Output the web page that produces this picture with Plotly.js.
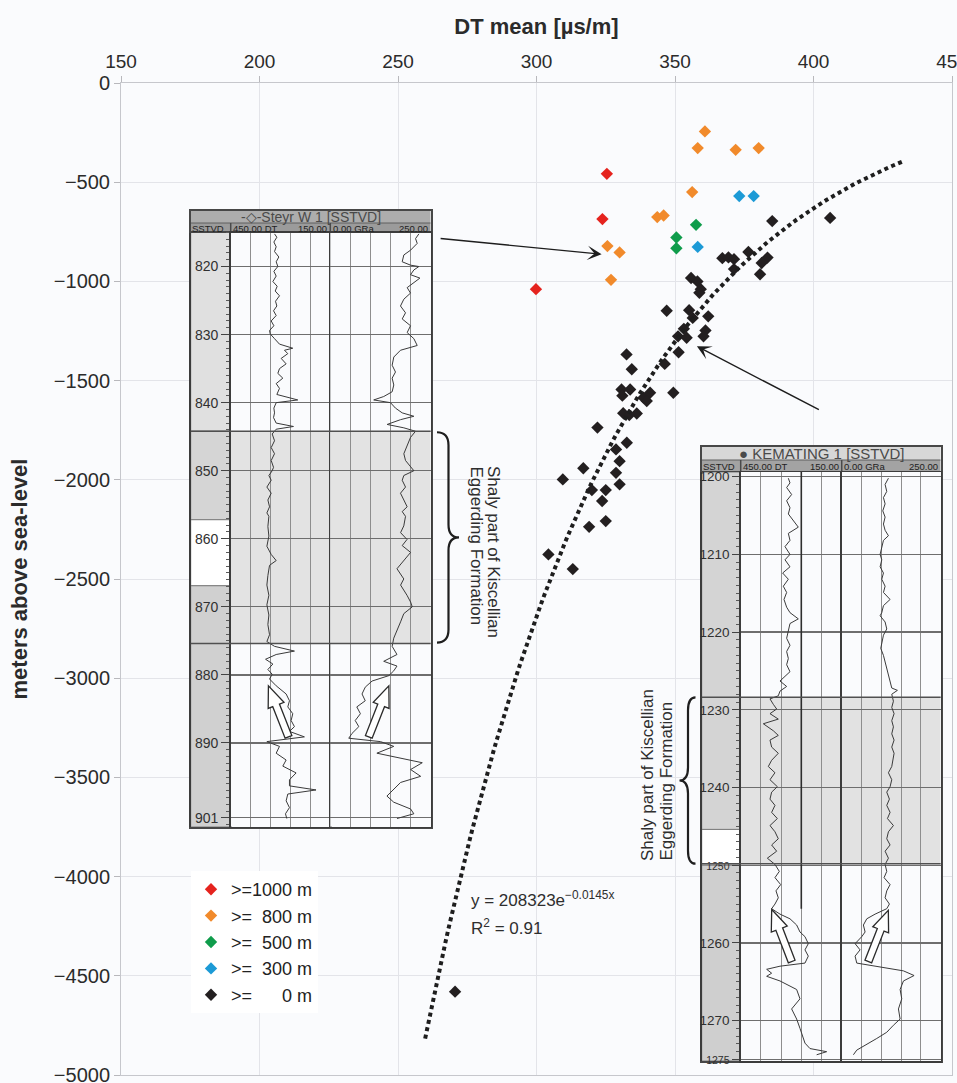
<!DOCTYPE html>
<html>
<head>
<meta charset="utf-8">
<title>DT mean vs depth</title>
<script src="https://cdn.plot.ly/plotly-3.0.1.min.js"></script>
<style>
  html, body { margin: 0; padding: 0; background: #fafbfd; }
  #chart { width: 957px; height: 1083px; }
</style>
</head>
<body>
<div id="chart"></div>
<script>
// ---------------------------------------------------------------------------
// Mean sonic slowness (DT, µs/m) of each shale interval against its depth
// (m above sea level), grouped by thickness class of the interval.
// ---------------------------------------------------------------------------
const classNames = ['>=1000 m', '>=\u2007800 m', '>=\u2007500 m', '>=\u2007300 m', '>=\u2007\u2007\u20070 m'];

const dt1000    = [325.4, 323.8, 299.8];
const depth1000 = [-458, -686, -1039];

const dt800    = [360.8, 358.2, 371.9, 380.2, 356.2, 343.6, 345.9, 325.6, 330.0, 326.9];
const depth800 = [-244, -328, -337, -328, -550, -676, -668, -822, -854, -992];

const dt500    = [357.6, 350.5, 350.5];
const depth500 = [-715, -779, -833];

const dt300    = [373.2, 378.4, 358.2];
const depth300 = [-570, -570, -826];

const dt0 = [385.1, 406.0, 367.1, 369.3, 371.3, 376.5, 371.3, 383.4, 381.3, 380.7,
             355.8, 358.1, 359.3, 358.8, 347.0, 355.1, 356.4, 362.0, 353.2, 351.1,
             354.2, 361.0, 360.3, 351.3, 332.5, 334.4, 346.3, 330.7, 333.8, 331.0,
             338.6, 341.0, 339.8, 349.4, 331.3, 333.5, 336.2, 322.0, 332.6, 328.7,
             330.0, 328.7, 330.0, 316.9, 309.5, 320.0, 325.0, 323.7, 319.0, 325.0,
             304.3, 313.1, 270.6];
const depth0 = [-696, -680, -883, -879, -888, -852, -938, -880, -907, -964,
                -983, -1000, -1039, -1057, -1148, -1145, -1184, -1176, -1239, -1277,
                -1284, -1247, -1277, -1357, -1368, -1443, -1416, -1545, -1545, -1576,
                -1586, -1561, -1603, -1561, -1664, -1674, -1666, -1737, -1813, -1847,
                -1906, -1965, -2023, -1942, -1998, -2052, -2052, -2107, -2237, -2208,
                -2376, -2450, -4580];

// Exponential compaction trend printed on the chart: depth = -A * exp(-B * DT)
const fitA = 208323;
const fitB = 0.0145;
const fitR2 = 0.91;
const fitDtRange = [259.8, 432];

// ---------------------------------------------------------------------------
// Well log excerpts (depth in m SSTVD)
// ---------------------------------------------------------------------------
const steyrDepthTicks = [820, 830, 840, 850, 860, 870, 880, 890, 901];
const steyrShaly = [844.2, 875.4];
const steyrColumnBreaks = [815.0, 844.2, 857.2, 866.9, 902.3];

const steyrDtDepth = [815.2, 815.7, 816.4, 817.1, 817.8, 818.6, 819.3, 820.0, 820.7, 821.4,
  822.2, 822.9, 823.6, 824.3, 825.1, 825.8, 826.5, 827.2, 828.0, 828.7,
  829.4, 829.9, 830.6, 831.4, 832.0, 832.3, 832.8, 833.5, 834.3, 835.0,
  835.7, 836.4, 837.2, 837.9, 838.8, 839.6, 840.0, 840.8, 841.5, 842.2,
  843.0, 843.5, 843.9, 844.6, 845.6, 846.6, 847.5, 848.5, 849.5, 850.0,
  850.7, 851.4, 852.4, 853.3, 854.3, 855.3, 856.2, 856.7,
  858.2, 859.6, 861.1, 862.3, 863.2, 863.9, 865.4, 866.8, 868.3, 869.7,
  871.2, 872.6, 874.1, 875.1, 875.8, 876.5, 877.0, 877.7, 878.4, 879.2,
  879.9, 880.6, 881.6, 882.8, 883.8, 884.7, 885.7, 886.7, 887.6, 888.3,
  889.1, 889.8, 890.5, 891.5, 892.5, 893.4, 894.4, 895.4, 896.3, 896.9,
  897.5, 898.5, 899.5, 900.4, 901.1];
const steyrDt = [318, 311, 320, 313, 318, 305, 313, 308, 320, 313,
  323, 310, 316, 303, 315, 311, 321, 313, 328, 320,
  333, 331, 318, 303, 263, 288, 278, 298, 283, 303,
  308, 293, 313, 303, 311, 248, 313, 320, 318, 321,
  313, 261, 313, 325, 318, 328, 318, 328, 321, 325,
  335, 328, 341, 328, 338, 333, 341, 335,
  338, 335, 341, 328, 313, 333, 338, 341, 335, 341,
  335, 338, 333, 341, 318, 258, 313, 345, 323, 338,
  325, 333, 313, 283, 273, 278, 263, 268, 258, 273,
  228, 341, 303, 313, 283, 293, 253, 273, 273, 193,
  278, 283, 273, 285, 281];

const steyrGrDepth = [815.2, 815.9, 816.6, 817.6, 818.3, 819.3, 819.8, 820.0, 820.5, 821.2,
  821.7, 822.4, 823.1, 823.9, 824.8, 825.8, 826.8, 827.7, 828.7, 829.7,
  830.6, 831.6, 832.3, 833.3, 834.5, 835.5, 836.4, 837.4, 838.4, 839.1,
  839.6, 840.0, 840.8, 841.5, 842.0, 842.5, 843.2, 843.7, 844.2, 845.1,
  846.3, 847.5, 848.5, 849.5, 850.0, 850.7, 851.4, 852.4, 853.3, 854.3,
  855.3, 856.0, 856.7,
  858.1, 859.1, 860.1, 861.0, 862.0, 863.5, 864.4, 865.9, 866.8, 868.3,
  869.3, 870.0, 871.0, 872.2, 873.6, 874.6, 875.8, 877.0, 878.0, 878.7,
  879.4, 880.1, 880.9, 881.8, 882.8, 883.8, 884.7, 885.7, 886.7, 887.6,
  888.6, 889.3, 889.8, 890.5, 891.5, 892.4, 892.9, 893.9, 894.9, 895.8,
  896.8, 897.8, 898.7, 899.7, 900.4, 901.1];
const steyrGr = [220.6, 212.3, 216.4, 199.8, 183.1, 179, 199.8, 220.6, 208.1, 199.8,
  223.1, 208.1, 191.4, 199.8, 183.1, 174.8, 187.3, 179, 199.8, 191.4,
  208.1, 216.4, 174.8, 158.1, 154, 162.3, 154, 158.1, 154, 133.1,
  108.1, 149.8, 162.3, 179, 208.1, 174.8, 141.5, 183.1, 212.3, 199.8,
  191.4, 183.1, 187.3, 199.8, 208.1, 183.1, 179, 187.3, 174.8, 183.1,
  191.4, 179, 187.3,
  183, 175, 191, 179, 200, 179, 166, 183, 175, 191,
  200, 204, 183, 175, 166, 158, 154, 166, 133, 166,
  158, 146, 104, 87, 79, 87, 66, 75, 62, 71,
  54, 46, 125, 158, 116, 191, 229, 200, 225, 175,
  158, 141, 158, 200, 208, 166];

const kemDepthTicks = [1200, 1210, 1220, 1230, 1240, 1250, 1260, 1270, 1275];
const kemShaly = [1228.4, 1249.8];
const kemColumnBreaks = [1199.4, 1245.4, 1250.0, 1275.2];

const kemDtDepth = [1200.2, 1200.8, 1201.4, 1202.3, 1203.1, 1204.0, 1204.8, 1205.7, 1206.5, 1207.3,
  1208.2, 1209.0, 1210.0, 1210.7, 1211.6, 1212.4, 1213.2, 1214.1, 1214.9, 1215.8,
  1216.8, 1217.5, 1218.3, 1218.9, 1220.0, 1220.8, 1221.7, 1222.5, 1223.4, 1224.2,
  1225.1, 1225.9, 1226.3, 1227.0, 1227.6, 1228.2, 1228.6, 1229.3, 1229.9, 1230.5,
  1231.2, 1231.8, 1232.7, 1233.3, 1233.9, 1234.8, 1235.6, 1236.5,
  1237.3, 1238.1, 1239.0, 1239.9, 1240.6, 1241.5, 1242.3, 1243.2, 1244.0, 1244.9,
  1245.7, 1246.6, 1247.4, 1248.2, 1249.1, 1249.9, 1250.8, 1251.6, 1252.5, 1253.3,
  1254.2, 1255.0, 1255.6, 1256.3, 1256.9, 1257.7, 1258.6, 1259.2, 1260.1, 1260.9,
  1261.7, 1262.6, 1263.0, 1263.4, 1263.9, 1264.3, 1264.9, 1266.0, 1267.2, 1268.5,
  1269.8, 1271.0, 1272.1, 1272.9, 1273.6, 1274.0, 1274.4];
const kemDt = [308.5, 303.6, 313.5, 298.7, 313.5, 303.6, 308.5, 293.7, 278.9, 308.5,
  303.6, 318.4, 303.6, 318.4, 303.6, 325.4, 308.5, 323.4, 313.5, 321.4,
  313.5, 303.6, 278.9, 303.6, 308.5, 313.5, 303.6, 313.5, 308.5, 313.5,
  303.6, 323.4, 333.3, 313.5, 333.3, 338.3, 363, 353.1, 343.2, 363,
  338.3, 382.8, 353.1, 338.3, 363, 358.1, 338.3, 358.1,
  368, 348.2, 363, 341.2, 358.1, 363, 348.2, 358.1, 341.2, 363,
  348.2, 338.3, 358.1, 343.2, 370.9, 348.2, 335.3, 348.2, 331.3, 345.2,
  338.3, 348.2, 358.1, 333.3, 303.6, 283.8, 273.9, 259.1, 249.2, 259.1,
  249.2, 259.1, 333.3, 372.9, 358.1, 372.9, 333.3, 283.8, 273.9, 298.7,
  283.8, 273.9, 264, 259.1, 244.2, 194.7, 224.4];

const kemGrDepth = [1200.2, 1201.0, 1201.9, 1202.7, 1203.5, 1204.4, 1205.2, 1206.1, 1206.9, 1207.6,
  1208.2, 1209.0, 1210.0, 1210.7, 1211.6, 1212.4, 1213.2, 1214.1, 1214.9, 1215.8,
  1216.6, 1217.5, 1217.9, 1218.7, 1219.6, 1220.4, 1221.3, 1222.1, 1223.0, 1223.8,
  1224.6, 1225.5, 1226.3, 1227.2, 1227.5, 1228.0, 1228.9, 1229.7, 1230.5, 1231.4,
  1232.2, 1233.1, 1233.9, 1234.8, 1235.6, 1236.5,
  1237.3, 1238.1, 1239.0, 1239.9, 1240.6, 1241.5, 1242.3, 1243.2, 1244.0, 1244.9,
  1245.7, 1246.6, 1247.4, 1248.2, 1249.1, 1249.9, 1250.8, 1251.6, 1252.5, 1253.3,
  1254.2, 1255.0, 1255.6, 1256.3, 1256.9, 1257.7, 1258.6, 1259.2, 1260.1, 1260.9,
  1261.7, 1262.6, 1263.0, 1263.6, 1264.2, 1264.9, 1266.0, 1267.2, 1268.5, 1269.8,
  1270.6, 1271.5, 1272.3, 1273.1, 1273.8, 1274.4];
const kemGr = [118, 109.6, 113.8, 105.4, 109.6, 103.7, 109.6, 105.4, 109.6, 118,
  105.4, 101.2, 97, 101.2, 97, 105.4, 101.2, 109.6, 105.4, 122.2,
  105.4, 101.2, 97, 109.6, 113.8, 105.4, 101.2, 98.6, 105.4, 109.6,
  113.8, 118, 122.2, 126.4, 140.7, 126.4, 130.6, 126.4, 132.3, 126.4,
  130.6, 126.4, 132.3, 126.4, 132.3, 128.9,
  126.4, 118, 126.4, 122.2, 113.8, 120.5, 113.8, 122.2, 115.5, 130.6,
  118, 113.8, 122.2, 109.6, 118, 109.6, 113.8, 107, 122.2, 113.8,
  109.6, 120.5, 113.8, 84.3, 63.3, 54.8, 59.1, 50.6, 33.8, 46.4,
  33.8, 38, 88.5, 155.9, 182.8, 155.9, 147.5, 151.7, 143.3, 147.5,
  130.6, 113.8, 88.5, 63.3, 38, 29.6];

// constant reference curve in the DT track of Kemating 1
const kemRefDt = [270, 270];
const kemRefDepth = [1199.4, 1255.6];

// ---------------------------------------------------------------------------
// Page geometry and styling
// ---------------------------------------------------------------------------
const FONT = 'Liberation Sans, Arial, Helvetica, sans-serif';
const BG = '#fafbfd';
const INK = '#2a2a2a';
const W = 957, H = 1083;
const PLOT = { l: 121, r: 952, t: 83, b: 1075 };
const px2x = px => (px - PLOT.l) / (PLOT.r - PLOT.l);
const px2y = py => (PLOT.b - py) / (PLOT.b - PLOT.t);

const DT_RANGE = [450, 150];
const GR_RANGE = [0, 250];

const steyrPanel = {
  title: '-\u25C7-Steyr W 1 [SSTVD]', titleSize: 14,
  left: 190.7, col: 230.7, mid: 330.3, right: 430.7,
  top: 210.5, head1: 223, head2: 232.5, bottom: 826.7,
  depthRange: [815.0, 902.3],
  headColors: ['#adadad', '#9b9b9b'],
  columnColors: ['#e0e0e0', '#d5d5d5', '#ffffff', '#d0d0d0'],
  shadeColor: '#e3e3e3',
  tickSize: 14, tickLen: 8, smallTicks: [],
  axes: { frameX: 2, frameY: 2, colX: 3, dtX: 4, grX: 5, depthY: 3 }
};
const kemPanel = {
  title: '\u25CF KEMATING 1 [SSTVD]', titleSize: 15,
  left: 701.7, col: 740.7, mid: 841.7, right: 940.7,
  top: 446.7, head1: 460, head2: 472, bottom: 1061,
  depthRange: [1199.4, 1275.2],
  headColors: ['#d7d7d7', '#a3a3a3'],
  columnColors: ['#d4d4d4', '#ffffff', '#cfcfcf'],
  shadeColor: '#e2e2e2',
  tickSize: 13.5, tickLen: 7, smallTicks: [1250, 1275],
  axes: { frameX: 6, frameY: 4, colX: 7, dtX: 8, grX: 9, depthY: 5 }
};

const depthPx = (p, d) => p.head2 + (d - p.depthRange[0]) / (p.depthRange[1] - p.depthRange[0]) * (p.bottom - p.head2);
const dtPx = (p, v) => p.col + (DT_RANGE[0] - v) / (DT_RANGE[0] - DT_RANGE[1]) * (p.mid - p.col);
const grPx = (p, v) => p.mid + (v - GR_RANGE[0]) / (GR_RANGE[1] - GR_RANGE[0]) * (p.right - p.mid);
const toPaper = pt => px2x(pt[0]).toFixed(5) + ',' + px2y(pt[1]).toFixed(5);

// hollow block arrow between two pixel points, as a paper-referenced path
function blockArrow(tail, tip) {
  const dx = tip[0] - tail[0], dy = tip[1] - tail[1], L = Math.hypot(dx, dy);
  const ux = dx / L, uy = dy / L, nx = -uy, ny = ux;
  const sw = 3.6, hw = 8.5, hl = 21;
  const bx = tip[0] - ux * hl, by = tip[1] - uy * hl;
  const pts = [
    [tail[0] + nx * sw, tail[1] + ny * sw], [bx + nx * sw, by + ny * sw], [bx + nx * hw, by + ny * hw],
    tip,
    [bx - nx * hw, by - ny * hw], [bx - nx * sw, by - ny * sw], [tail[0] - nx * sw, tail[1] - ny * sw]
  ];
  return 'M' + pts.map(toPaper).join('L') + 'Z';
}

// vertical curly brace: ends at xEnd, spine at xSpine, point at xTip
function curlyBrace(xEnd, xSpine, xTip, yTop, yBot) {
  const r = 13, ym = (yTop + yBot) / 2;
  return 'M' + toPaper([xEnd, yTop]) +
    'Q' + toPaper([xSpine, yTop]) + ' ' + toPaper([xSpine, yTop + r]) +
    'L' + toPaper([xSpine, ym - r]) +
    'Q' + toPaper([xSpine, ym]) + ' ' + toPaper([xTip, ym]) +
    'Q' + toPaper([xSpine, ym]) + ' ' + toPaper([xSpine, ym + r]) +
    'L' + toPaper([xSpine, yBot - r]) +
    'Q' + toPaper([xSpine, yBot]) + ' ' + toPaper([xEnd, yBot]);
}

const traces = [];
const shapes = [];
const annotations = [];

// ---------------------------------------------------------------------------
// Main scatter
// ---------------------------------------------------------------------------
const classSeries = [[dt1000, depth1000], [dt800, depth800], [dt500, depth500], [dt300, depth300], [dt0, depth0]];
const classColors = ['#e5231e', '#f18a2b', '#0f9c4b', '#1c9ad6', '#231f20'];
classSeries.forEach(([xs, ys], i) => {
  traces.push({
    type: 'scatter', mode: 'markers', name: classNames[i],
    x: xs, y: ys, xaxis: 'x', yaxis: 'y',
    marker: { symbol: 'diamond', size: 9.5, color: classColors[i], line: { width: 0 } },
    hoverinfo: 'skip'
  });
});

const fitDt = [], fitDepth = [];
for (let i = 0; i <= 140; i++) {
  const x = fitDtRange[0] + (fitDtRange[1] - fitDtRange[0]) * i / 140;
  fitDt.push(x);
  fitDepth.push(-fitA * Math.exp(-fitB * x));
}
traces.push({
  type: 'scatter', mode: 'lines', x: fitDt, y: fitDepth, xaxis: 'x', yaxis: 'y',
  line: { color: '#1e1e1e', width: 4, dash: '4px,3.5px' }, showlegend: false, hoverinfo: 'skip'
});

// ---------------------------------------------------------------------------
// Log panels
// ---------------------------------------------------------------------------
const layout = {};

function buildLogPanel(p, d) {
  const a = p.axes;
  const fX = 'x' + a.frameX, fY = 'y' + a.frameY;
  const cX = 'x' + a.colX, dX = 'x' + a.dtX, gX = 'x' + a.grX, yD = 'y' + a.depthY;
  const xDom = (l, r) => [px2x(l), px2x(r)];
  const yDom = (top, bot) => [px2y(bot), px2y(top)];
  const frameY = py => (p.bottom - py) / (p.bottom - p.top);
  const frameX = px => (px - p.left) / (p.right - p.left);
  const bare = { showticklabels: false, ticks: '', showgrid: false, zeroline: false, fixedrange: true };
  const edge = { showline: true, mirror: true, linecolor: '#474747' };

  layout['xaxis' + a.frameX] = { ...bare, ...edge, linewidth: 2, domain: xDom(p.left, p.right), range: [0, 1], anchor: fY };
  layout['yaxis' + a.frameY] = { ...bare, ...edge, linewidth: 2, domain: yDom(p.top, p.bottom), range: [0, 1], anchor: fX };
  layout['xaxis' + a.colX] = { ...bare, ...edge, linewidth: 1.5, domain: xDom(p.left, p.col), range: [0, 1], anchor: yD };
  layout['yaxis' + a.depthY] = {
    domain: yDom(p.head2, p.bottom), range: [p.depthRange[1], p.depthRange[0]], anchor: dX,
    tickmode: 'array', tickvals: d.ticks,
    ticktext: d.ticks.map(v => p.smallTicks.includes(v) ? '<span style="font-size:10.5px">' + v + '</span>' : String(v)),
    ticks: 'outside', ticklen: p.tickLen, tickwidth: 1, tickcolor: '#444',
    tickfont: { family: FONT, size: p.tickSize, color: '#303030' },
    minor: { tickmode: 'linear', tick0: 0, dtick: 1, ticks: 'outside', ticklen: 3, tickwidth: 1, tickcolor: '#5a5a5a', showgrid: false },
    showgrid: true, gridcolor: '#6e6e6e', gridwidth: 1.3, zeroline: false,
    showline: true, mirror: 'all', linecolor: '#3c3c3c', linewidth: 1.5, fixedrange: true
  };
  layout['xaxis' + a.dtX] = {
    domain: xDom(p.col, p.mid), range: DT_RANGE, anchor: yD, tickmode: 'linear', tick0: 150, dtick: 60,
    showticklabels: false, ticks: '', showgrid: true, gridcolor: '#8e8e8e', gridwidth: 1, zeroline: false,
    showline: true, mirror: true, linecolor: '#3c3c3c', linewidth: 1.5, fixedrange: true
  };
  layout['xaxis' + a.grX] = {
    domain: xDom(p.mid, p.right), range: GR_RANGE, anchor: yD, tickmode: 'linear', tick0: 0, dtick: 50,
    showticklabels: false, ticks: '', showgrid: true, gridcolor: '#8e8e8e', gridwidth: 1, zeroline: false,
    showline: true, mirror: true, linecolor: '#3c3c3c', linewidth: 1.5, fixedrange: true
  };

  // frame subplot (carries the header)
  traces.push({ type: 'scatter', x: [], y: [], xaxis: fX, yaxis: fY, showlegend: false, hoverinfo: 'skip' });

  // depth column bands
  const mids = [], widths = [];
  for (let i = 0; i < d.breaks.length - 1; i++) {
    mids.push((d.breaks[i] + d.breaks[i + 1]) / 2);
    widths.push(d.breaks[i + 1] - d.breaks[i]);
  }
  traces.push({
    type: 'bar', orientation: 'h', x: mids.map(() => 1), base: 0, y: mids, width: widths,
    xaxis: cX, yaxis: yD, marker: { color: p.columnColors, line: { color: '#7d7d7d', width: 1 } },
    showlegend: false, hoverinfo: 'skip'
  });

  // log curves
  traces.push({ type: 'scatter', mode: 'lines', x: d.dt, y: d.dtDepth, xaxis: dX, yaxis: yD,
    line: { color: '#3a3a3a', width: 1 }, showlegend: false, hoverinfo: 'skip' });
  traces.push({ type: 'scatter', mode: 'lines', x: d.gr, y: d.grDepth, xaxis: gX, yaxis: yD,
    line: { color: '#3a3a3a', width: 1 }, showlegend: false, hoverinfo: 'skip' });

  // header bars
  shapes.push({ type: 'rect', xref: fX, yref: fY, x0: 0, x1: 1, y0: frameY(p.head1), y1: 1,
    fillcolor: p.headColors[0], line: { width: 0 }, layer: 'below' });
  shapes.push({ type: 'rect', xref: fX, yref: fY, x0: 0, x1: 1, y0: frameY(p.head2), y1: frameY(p.head1),
    fillcolor: p.headColors[1], line: { width: 0 }, layer: 'below' });
  shapes.push({ type: 'line', xref: fX, yref: fY, x0: 0, x1: 1, y0: frameY(p.head1), y1: frameY(p.head1),
    line: { color: '#5e5e5e', width: 1 }, layer: 'below' });
  [p.col, p.mid].forEach(px => shapes.push({ type: 'line', xref: fX, yref: fY,
    x0: frameX(px), x1: frameX(px), y0: frameY(p.head2), y1: frameY(p.head1),
    line: { color: '#4a4a4a', width: 1.5 }, layer: 'below' }));

  // shaly interval shading in both tracks
  shapes.push({ type: 'rect', xref: dX, yref: yD, x0: DT_RANGE[0], x1: DT_RANGE[1], y0: d.shaly[0], y1: d.shaly[1],
    fillcolor: p.shadeColor, line: { width: 0 }, layer: 'below' });
  shapes.push({ type: 'rect', xref: gX, yref: yD, x0: GR_RANGE[0], x1: GR_RANGE[1], y0: d.shaly[0], y1: d.shaly[1],
    fillcolor: p.shadeColor, line: { width: 0 }, layer: 'below' });
  d.shaly.forEach(dep => shapes.push({ type: 'line', xref: 'paper', yref: yD,
    x0: px2x(p.left), x1: px2x(p.right), y0: dep, y1: dep,
    line: { color: '#505050', width: 1.5 }, layer: 'above' }));

  // header texts
  const headRow1 = (p.top + p.head1) / 2 + 0.5, headRow2 = (p.head1 + p.head2) / 2 + 0.5;
  const headText = (text, px, py, anchor, size, color) => annotations.push({
    xref: 'paper', yref: 'paper', x: px2x(px), y: px2y(py), xanchor: anchor, yanchor: 'middle',
    text, showarrow: false, borderpad: 0, font: { family: FONT, size, color }
  });
  headText(p.title, (p.left + p.right) / 2, headRow1, 'center', p.titleSize, '#4a4a4a');
  headText('SSTVD', p.left + 0.5, headRow2, 'left', 9.5, '#222');
  headText(DT_RANGE[0].toFixed(2) + ' DT', p.col + 1.5, headRow2, 'left', 9.5, '#222');
  headText(DT_RANGE[1].toFixed(2), p.mid - 2, headRow2, 'right', 9.5, '#222');
  headText(GR_RANGE[0].toFixed(2) + ' GRa', p.mid + 1.5, headRow2, 'left', 9.5, '#222');
  headText(GR_RANGE[1].toFixed(2), p.right - 1.5, headRow2, 'right', 9.5, '#222');
}

buildLogPanel(steyrPanel, {
  ticks: steyrDepthTicks, shaly: steyrShaly, breaks: steyrColumnBreaks,
  dt: steyrDt, dtDepth: steyrDtDepth, gr: steyrGr, grDepth: steyrGrDepth
});
buildLogPanel(kemPanel, {
  ticks: kemDepthTicks, shaly: kemShaly, breaks: kemColumnBreaks,
  dt: kemDt, dtDepth: kemDtDepth, gr: kemGr, grDepth: kemGrDepth
});

traces.push({ type: 'scatter', mode: 'lines', x: kemRefDt, y: kemRefDepth, xaxis: 'x8', yaxis: 'y5',
  line: { color: '#2e2e2e', width: 1.6 }, showlegend: false, hoverinfo: 'skip' });

// hollow arrows marking the upward trend below each shaly interval
[
  { p: steyrPanel, track: 'dt', tail: [276, 889.1], tip: [336.4, 881.6] },
  { p: steyrPanel, track: 'gr', tail: [95.8, 889.1], tip: [145.8, 881.6] },
  { p: kemPanel, track: 'dt', tail: [298.5, 1262.4], tip: [357.9, 1255.7] },
  { p: kemPanel, track: 'gr', tail: [67.2, 1262.4], tip: [117.7, 1255.8] }
].forEach(({ p, track, tail, tip }) => {
  const toPx = track === 'dt' ? v => dtPx(p, v) : v => grPx(p, v);
  shapes.push({
    type: 'path', xref: 'paper', yref: 'paper', layer: 'above',
    path: blockArrow([toPx(tail[0]), depthPx(p, tail[1])], [toPx(tip[0]), depthPx(p, tip[1])]),
    fillcolor: '#ffffff', line: { color: '#2b2b2b', width: 1.3 }
  });
});

// braces next to the shaly intervals
shapes.push({ type: 'path', xref: 'paper', yref: 'paper', layer: 'above',
  path: curlyBrace(437, 448.5, 459, depthPx(steyrPanel, steyrShaly[0]) + 1, depthPx(steyrPanel, steyrShaly[1]) - 1),
  line: { color: '#1f1f1f', width: 2.2 } });
shapes.push({ type: 'path', xref: 'paper', yref: 'paper', layer: 'above',
  path: curlyBrace(695.5, 688, 679.5, depthPx(kemPanel, kemShaly[0]), depthPx(kemPanel, kemShaly[1])),
  line: { color: '#1f1f1f', width: 2.2 } });

const shalyLine1 = 'Shaly part of Kiscellian', shalyLine2 = 'Eggerding Formation';
const sideText = (text, px, py, angle, yanchor) => annotations.push({
  xref: 'paper', yref: 'paper', x: px2x(px), y: px2y(py), xanchor: 'center', yanchor,
  text, textangle: angle, showarrow: false, borderpad: 0,
  font: { family: FONT, size: 17, color: '#2e2e2e' }
});
sideText(shalyLine1, 494, 465, 90, 'top');
sideText(shalyLine2, 476, 465, 90, 'top');
sideText(shalyLine1, 647, 862, -90, 'bottom');
sideText(shalyLine2, 666, 862, -90, 'bottom');

// pointers from the log excerpts to their data points
annotations.push({ xref: 'x', yref: 'y', x: 323.5, y: -863, ax: -164, ay: -16, text: ' ',
  showarrow: true, arrowhead: 3, arrowsize: 1.7, arrowwidth: 1.4, arrowcolor: '#1d1d1d' });
annotations.push({ xref: 'x', yref: 'y', x: 357.9, y: -1327, ax: 125, ay: 65, text: ' ',
  showarrow: true, arrowhead: 3, arrowsize: 1.7, arrowwidth: 1.4, arrowcolor: '#1d1d1d' });

// regression label
annotations.push({ xref: 'paper', yref: 'paper', x: px2x(469), y: px2y(899), xanchor: 'left', yanchor: 'middle',
  text: 'y = ' + fitA + 'e<sup>\u2212' + fitB + 'x</sup>', showarrow: false,
  font: { family: FONT, size: 17, color: '#2e2e2e' } });
annotations.push({ xref: 'paper', yref: 'paper', x: px2x(469), y: px2y(927), xanchor: 'left', yanchor: 'middle',
  text: 'R<sup>2</sup> = ' + fitR2.toFixed(2), showarrow: false,
  font: { family: FONT, size: 17, color: '#2e2e2e' } });

// ---------------------------------------------------------------------------
// Main layout
// ---------------------------------------------------------------------------
Object.assign(layout, {
  width: W, height: H,
  margin: { l: PLOT.l, r: W - PLOT.r, t: PLOT.t, b: H - PLOT.b, pad: 0 },
  paper_bgcolor: BG, plot_bgcolor: BG,
  font: { family: FONT, color: INK },
  hovermode: false,
  showlegend: true,
  legend: {
    x: px2x(191), y: px2y(871), xanchor: 'left', yanchor: 'top',
    bgcolor: '#ffffff', borderwidth: 0, itemwidth: 30,
    font: { family: FONT, size: 18, color: '#222' }
  },
  xaxis: {
    domain: [0, 1], anchor: 'y', side: 'top', range: [150, 450],
    tickmode: 'linear', tick0: 150, dtick: 50,
    ticks: 'outside', ticklen: 6, tickcolor: '#b8b8bc', tickwidth: 1, ticklabeloverflow: 'allow',
    tickfont: { family: FONT, size: 19, color: '#2b2b2b' },
    showgrid: true, gridcolor: '#e3e4e9', gridwidth: 1, zeroline: false,
    showline: true, mirror: true, linecolor: '#c6c7cc', linewidth: 1,
    title: { text: 'DT mean [µs/m]', standoff: 10, font: { family: FONT, size: 22, color: '#2b2b2b', weight: 'bold' } },
    fixedrange: true
  },
  yaxis: {
    domain: [0, 1], anchor: 'x', range: [-5000, 0],
    tickmode: 'linear', tick0: 0, dtick: 500,
    ticks: 'outside', ticklen: 6, tickcolor: '#b8b8bc', tickwidth: 1, ticklabeloverflow: 'allow',
    tickfont: { family: FONT, size: 20, color: '#2b2b2b' },
    showgrid: true, gridcolor: '#e3e4e9', gridwidth: 1, zeroline: false,
    showline: true, mirror: true, linecolor: '#c6c7cc', linewidth: 1,
    title: { text: 'meters above sea-level', standoff: 20, font: { family: FONT, size: 22, color: '#2b2b2b', weight: 'bold' } },
    fixedrange: true
  },
  shapes, annotations
});

Plotly.newPlot('chart', traces, layout, { staticPlot: true, displayModeBar: false });
</script>
</body>
</html>
